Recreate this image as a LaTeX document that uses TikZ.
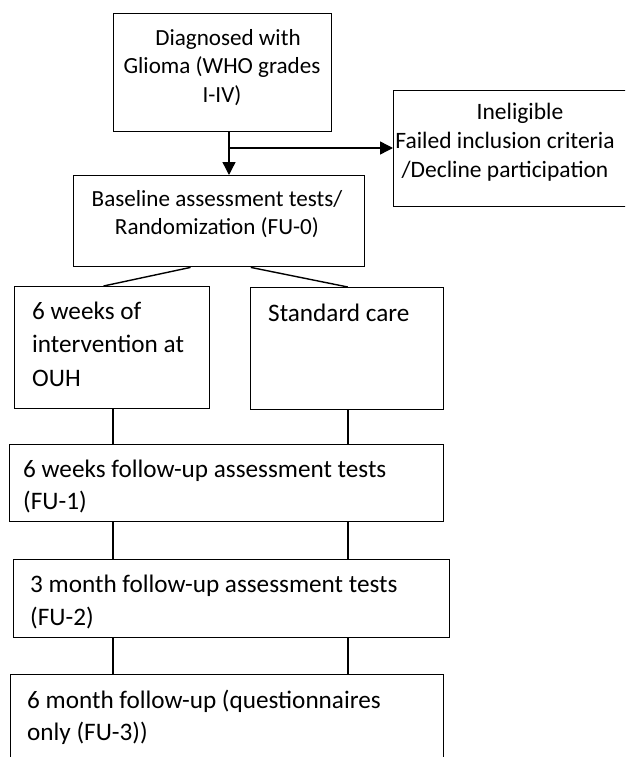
\documentclass[tikz,border=0pt]{standalone}
\usepackage{fontspec}
\setmainfont{Carlito}
\usetikzlibrary{arrows.meta,calc}
\newcommand\fsDiag{\fontsize{23.1}{28.7}\selectfont}
\newcommand\fsInel{\fontsize{23.5}{29}\selectfont}
\newcommand\fsBase{\fontsize{23.1}{28}\selectfont}
\newcommand\fsInterv{\fontsize{25.2}{33.5}\selectfont}
\newcommand\fsStd{\fontsize{25.2}{30}\selectfont}
\newcommand\fsFUa{\fontsize{25.2}{32}\selectfont}
\newcommand\fsFUb{\fontsize{25.2}{33}\selectfont}
\newcommand\fsFUc{\fontsize{25.2}{32}\selectfont}
\begin{document}
\begin{tikzpicture}[x=1pt,y=-1pt]
\tikzset{
  box/.style={draw=black, line width=1.4pt, inner sep=0pt, anchor=north west, rectangle},
  lbl/.style={inner sep=0pt, text=black},
  link/.style={draw=black, line width=1.4pt},
  arr/.style={link, -{Triangle[length=13pt,width=13pt]}},
}
\useasboundingbox (0,0) rectangle (625,757);
\clip (0,0) rectangle (625,757);
% boxes
\node[box, minimum width=218pt, minimum height=118pt] (diag) at (113,13) {};
\node[box, minimum width=260pt, minimum height=116pt] (inel) at (393,90) {};
\node[box, minimum width=291pt, minimum height=91pt] (base) at (73,175) {};
\node[box, minimum width=195pt, minimum height=122pt] (interv) at (14,286) {};
\node[box, minimum width=193pt, minimum height=122pt] (std) at (250,287) {};
\node[box, minimum width=434pt, minimum height=77pt] (fu1) at (9,444) {};
\node[box, minimum width=436pt, minimum height=78pt] (fu2) at (13,559) {};
\node[box, minimum width=433pt, minimum height=120pt] (fu3) at (10,674) {};
% texts
\node[lbl, align=center, font=\fsDiag] (diagt) at (222,68) {\strut\hspace*{12pt}Diagnosed with\\\strut Glioma (WHO grades\\\strut I-IV)};
\node[lbl, align=center, font=\fsInel] (inelt) at (505,142.2) {\strut\hspace*{30pt}Ineligible\\\strut Failed inclusion criteria\\\strut /Decline participation};
\node[lbl, align=center, font=\fsBase] (baset) at (217,214.4) {\strut Baseline assessment tests/\\\strut Randomization (FU-0)};
\node[lbl, align=left, anchor=west, font=\fsInterv] (intervt) at (32,345.8) {\strut 6 weeks of\\\strut intervention at\\\strut OUH};
\node[lbl, anchor=base west, font=\fsStd] (stdt) at (268,321) {Standard care};
\node[lbl, align=left, anchor=west, font=\fsFUa] (fu1t) at (23,487.5) {\strut 6 weeks follow-up assessment tests\\\strut (FU-1)};
\node[lbl, align=left, anchor=west, font=\fsFUb] (fu2t) at (30,602.5) {\strut 3 month follow-up assessment tests\\\strut (FU-2)};
\node[lbl, align=left, anchor=west, font=\fsFUc] (fu3t) at (27,718.5) {\strut 6 month follow-up (questionnaires\\\strut only (FU-3))};
% connectors
\coordinate (split) at (229,148);
\coordinate (L) at (113,0);
\coordinate (R) at (348,0);
\draw[arr] (split |- diag.south) -- (split |- base.north);
\draw[arr] (split) -- (split -| inel.west);
\draw[link] ($(base.south west)!0.402!(base.south east)$) -- ($(interv.north west)!0.456!(interv.north east)$);
\draw[link] ($(base.south west)!0.608!(base.south east)$) -- ($(std.north west)!0.503!(std.north east)$);
\draw[link] (L |- interv.south) -- (L |- fu1.north);
\draw[link] (R |- std.south) -- (R |- fu1.north);
\draw[link] (L |- fu1.south) -- (L |- fu2.north);
\draw[link] (R |- fu1.south) -- (R |- fu2.north);
\draw[link] (L |- fu2.south) -- (L |- fu3.north);
\draw[link] (R |- fu2.south) -- (R |- fu3.north);
\end{tikzpicture}
\end{document}
